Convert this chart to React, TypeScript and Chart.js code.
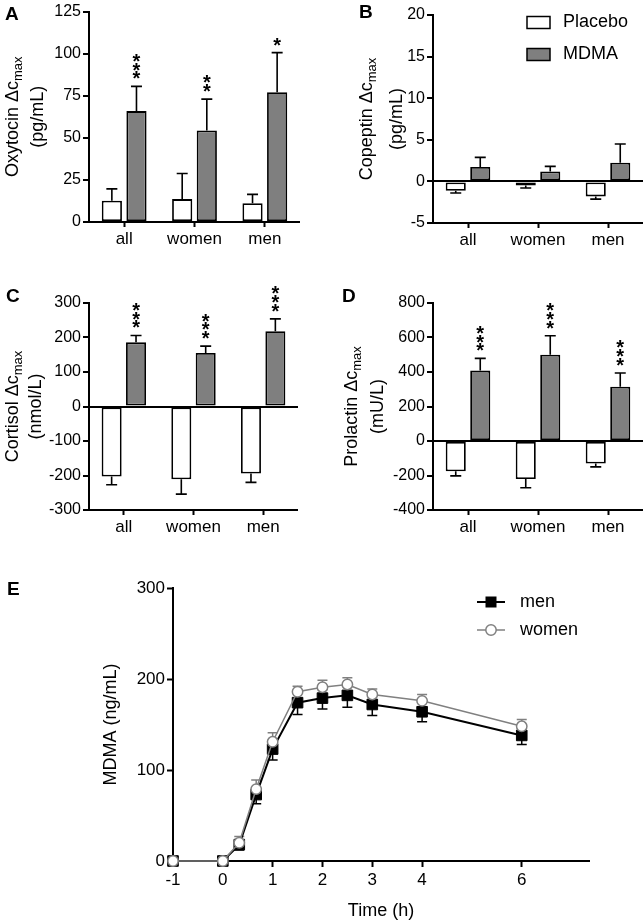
import React, { useEffect, useRef } from 'react';
import { Chart, registerables } from 'chart.js';

Chart.register(...registerables);

const FONT = "'Liberation Sans', Arial, Helvetica, sans-serif";

// ---------------- data ----------------
const groups = ['all', 'women', 'men'];

const oxytocinTicks = [0, 25, 50, 75, 100, 125];
const oxytocinPlacebo = [12.6, 13.6, 11.2];
const oxytocinPlaceboSem = [7.1, 15.2, 5.2];
const oxytocinMdma = [65.9, 54.4, 77.1];
const oxytocinMdmaSem = [14.7, 18.6, 23.5];
const oxytocinStars = ['***', '**', '*'];

const copeptinTicks = [-5, 0, 5, 10, 15, 20];
const copeptinPlacebo = [-1.12, -0.48, -1.8];
const copeptinPlaceboSem = [0.28, 0.32, 0.33];
const copeptinMdma = [1.73, 1.2, 2.25];
const copeptinMdmaSem = [1.16, 0.6, 2.24];
const copeptinStars = ['', '', ''];

const cortisolTicks = [-300, -200, -100, 0, 100, 200, 300];
const cortisolPlacebo = [-203, -211, -194];
const cortisolPlaceboSem = [24, 43, 26];
const cortisolMdma = [186, 155, 218];
const cortisolMdmaSem = [20, 20, 36];
const cortisolStars = ['***', '***', '***'];

const prolactinTicks = [-400, -200, 0, 200, 400, 600, 800];
const prolactinPlacebo = [-175, -221, -131];
const prolactinPlaceboSem = [27, 50, 19];
const prolactinMdma = [408, 500, 315];
const prolactinMdmaSem = [71, 110, 79];
const prolactinStars = ['***', '***', '***'];

const timeHours = [-1, 0, 0.33, 0.67, 1, 1.5, 2, 2.5, 3, 4, 6];
const menMdma = [0, 0, 18, 73, 123, 174, 179, 182, 172, 164, 138];
const menMdmaSem = [0, 0, 6, 10, 12, 13, 12, 13, 12, 11, 10];
const womenMdma = [0, 0, 20, 79, 131, 186, 191, 194, 183, 176, 148];
const womenMdmaSem = [0, 0, 7, 10, 10, 6, 7.5, 7.5, 6, 7, 7.6];
const timeTicks = [-1, 0, 1, 2, 3, 4, 6];
const timeMin = -1;
const timeMax = 7.35;
const mdmaTicks = [0, 100, 200, 300];

// ---------------- layout ----------------
type Box = { left: number; top: number; width: number; height: number };
type Area = { left: number; top: number; right: number; bottom: number };

type BarPanel = {
  letter: string;
  box: Box;
  area: Area;
  ticks: number[];
  placebo: number[];
  placeboSem: number[];
  mdma: number[];
  mdmaSem: number[];
  stars: string[];
  titleMain: string;
  titleSub: string;
  titleUnit: string;
  titleOffsets: [number, number];
  letterPos: [number, number];
  legend?: boolean;
};

const panels: BarPanel[] = [
  {
    letter: 'A',
    box: { left: 0, top: 0, width: 300, height: 270 },
    area: { left: 89, top: 11, right: 300, bottom: 222 },
    ticks: oxytocinTicks,
    placebo: oxytocinPlacebo,
    placeboSem: oxytocinPlaceboSem,
    mdma: oxytocinMdma,
    mdmaSem: oxytocinMdmaSem,
    stars: oxytocinStars,
    titleMain: 'Oxytocin \u0394c',
    titleSub: 'max',
    titleUnit: '(pg/mL)',
    titleOffsets: [-71, -46],
    letterPos: [5, 20],
  },
  {
    letter: 'B',
    box: { left: 330, top: 0, width: 313, height: 270 },
    area: { left: 433, top: 15, right: 643, bottom: 223 },
    ticks: copeptinTicks,
    placebo: copeptinPlacebo,
    placeboSem: copeptinPlaceboSem,
    mdma: copeptinMdma,
    mdmaSem: copeptinMdmaSem,
    stars: copeptinStars,
    titleMain: 'Copeptin \u0394c',
    titleSub: 'max',
    titleUnit: '(pg/mL)',
    titleOffsets: [-61, -31],
    letterPos: [359, 18],
    legend: true,
  },
  {
    letter: 'C',
    box: { left: 0, top: 280, width: 298, height: 270 },
    area: { left: 89, top: 303, right: 298, bottom: 510 },
    ticks: cortisolTicks,
    placebo: cortisolPlacebo,
    placeboSem: cortisolPlaceboSem,
    mdma: cortisolMdma,
    mdmaSem: cortisolMdmaSem,
    stars: cortisolStars,
    titleMain: 'Cortisol \u0394c',
    titleSub: 'max',
    titleUnit: '(nmol/L)',
    titleOffsets: [-71, -48],
    letterPos: [6, 302],
  },
  {
    letter: 'D',
    box: { left: 330, top: 280, width: 313, height: 270 },
    area: { left: 433, top: 303, right: 643, bottom: 510 },
    ticks: prolactinTicks,
    placebo: prolactinPlacebo,
    placeboSem: prolactinPlaceboSem,
    mdma: prolactinMdma,
    mdmaSem: prolactinMdmaSem,
    stars: prolactinStars,
    titleMain: 'Prolactin \u0394c',
    titleSub: 'max',
    titleUnit: '(mU/L)',
    titleOffsets: [-76, -50],
    letterPos: [342, 302],
  },
];

const lineBox: Box = { left: 0, top: 560, width: 643, height: 362 };
const lineArea: Area = { left: 173, top: 588, right: 589, bottom: 861 };

function layoutFor(box: Box, area: Area) {
  return {
    padding: {
      left: 0,
      top: area.top - box.top,
      right: box.left + box.width - area.right,
      bottom: 0,
    },
    yWidth: area.left - box.left,
    xHeight: box.top + box.height - area.bottom,
  };
}

function drawYTitle(ctx: CanvasRenderingContext2D, baseX: number, cy: number, main: string, sub: string, size: number) {
  ctx.save();
  ctx.translate(baseX, cy);
  ctx.rotate(-Math.PI / 2);
  ctx.fillStyle = '#000';
  ctx.textAlign = 'left';
  ctx.textBaseline = 'alphabetic';
  ctx.font = `${size}px ${FONT}`;
  const wMain = ctx.measureText(main).width;
  const subSize = Math.round(size * 0.72);
  ctx.font = `${subSize}px ${FONT}`;
  const wSub = sub ? ctx.measureText(sub).width : 0;
  const total = wMain + wSub;
  ctx.font = `${size}px ${FONT}`;
  ctx.fillText(main, -total / 2, 0);
  if (sub) {
    ctx.font = `${subSize}px ${FONT}`;
    ctx.fillText(sub, -total / 2 + wMain, 4);
  }
  ctx.restore();
}

function barConfig(p: BarPanel): any {
  const L = layoutFor(p.box, p.area);
  const ox = p.box.left;
  const oy = p.box.top;
  const deco = {
    id: 'deco' + p.letter,
    afterDatasetsDraw(chart: any) {
      const ctx: CanvasRenderingContext2D = chart.ctx;
      const ys = chart.scales.y;
      const ca = chart.chartArea;
      const sets: [number[], number[]][] = [
        [p.placebo, p.placeboSem],
        [p.mdma, p.mdmaSem],
      ];
      ctx.save();
      ctx.strokeStyle = '#000';
      ctx.lineWidth = 1.6;
      sets.forEach(([vals, sems], d) => {
        const meta = chart.getDatasetMeta(d);
        vals.forEach((v, i) => {
          const el = meta.data[i];
          const end = v >= 0 ? v + sems[i] : v - sems[i];
          const y0 = ys.getPixelForValue(v);
          const y1 = ys.getPixelForValue(end);
          ctx.beginPath();
          ctx.moveTo(el.x, y0);
          ctx.lineTo(el.x, y1);
          ctx.moveTo(el.x - 5.5, y1);
          ctx.lineTo(el.x + 5.5, y1);
          ctx.stroke();
        });
      });
      // significance stars
      ctx.fillStyle = '#000';
      ctx.font = `bold 20px ${FONT}`;
      ctx.textAlign = 'center';
      ctx.textBaseline = 'alphabetic';
      const m = ctx.measureText('*');
      const shift = (m.actualBoundingBoxAscent - m.actualBoundingBoxDescent) / 2;
      const metaM = chart.getDatasetMeta(1);
      p.stars.forEach((s, i) => {
        const yTop = ys.getPixelForValue(p.mdma[i] + p.mdmaSem[i]);
        for (let k = 0; k < s.length; k++) {
          const cy = yTop - 11 - k * 8.8;
          ctx.fillText('*', metaM.data[i].x, cy + shift);
        }
      });
      // axis title
      const cy = (ca.top + ca.bottom) / 2;
      drawYTitle(ctx, ca.left + p.titleOffsets[0], cy, p.titleMain, p.titleSub, 18);
      drawYTitle(ctx, ca.left + p.titleOffsets[1], cy, p.titleUnit, '', 18);
      // panel letter
      ctx.fillStyle = '#000';
      ctx.textAlign = 'left';
      ctx.textBaseline = 'alphabetic';
      ctx.font = `bold 19px ${FONT}`;
      ctx.fillText(p.letter, p.letterPos[0] - ox, p.letterPos[1] - oy);
      // legend
      if (p.legend) {
        const items = [
          { label: 'Placebo', fill: '#ffffff', y: 22.5 },
          { label: 'MDMA', fill: '#7f7f7f', y: 54.5 },
        ];
        items.forEach((it) => {
          ctx.fillStyle = it.fill;
          ctx.strokeStyle = '#000';
          ctx.lineWidth = 1.5;
          ctx.beginPath();
          ctx.rect(527 - ox, it.y - 6 - oy, 23, 12);
          ctx.fill();
          ctx.stroke();
          ctx.fillStyle = '#000';
          ctx.font = `18px ${FONT}`;
          ctx.textBaseline = 'middle';
          ctx.fillText(it.label, 563 - ox, it.y - oy);
        });
      }
      ctx.restore();
    },
  };

  return {
    type: 'bar',
    data: {
      labels: groups,
      datasets: [
        {
          label: 'Placebo',
          data: p.placebo,
          backgroundColor: '#ffffff',
          borderColor: '#000000',
          borderWidth: 1.8,
          borderSkipped: false,
          categoryPercentage: 0.7,
          barPercentage: 0.82,
        },
        {
          label: 'MDMA',
          data: p.mdma,
          backgroundColor: '#7f7f7f',
          borderColor: '#000000',
          borderWidth: 1.8,
          borderSkipped: false,
          categoryPercentage: 0.7,
          barPercentage: 0.82,
        },
      ],
    },
    options: {
      responsive: false,
      maintainAspectRatio: false,
      animation: false,
      devicePixelRatio: 1,
      events: [],
      layout: { padding: L.padding },
      plugins: { legend: { display: false }, tooltip: { enabled: false }, title: { display: false } },
      scales: {
        x: {
          type: 'category',
          offset: true,
          grid: {
            offset: false,
            drawOnChartArea: false,
            drawTicks: true,
            tickLength: 5,
            tickColor: '#000',
            tickWidth: 2,
          },
          border: { display: true, color: '#000', width: 2 },
          ticks: {
            color: '#000',
            font: { size: 17, family: FONT },
            padding: 2,
            maxRotation: 0,
            autoSkip: false,
          },
          afterFit: (s: any) => {
            s.height = L.xHeight;
          },
        },
        y: {
          type: 'linear',
          min: p.ticks[0],
          max: p.ticks[p.ticks.length - 1],
          afterBuildTicks: (s: any) => {
            s.ticks = p.ticks.map((v) => ({ value: v }));
          },
          grid: {
            color: (c: any) => (c.tick && c.tick.value === 0 ? '#000' : 'rgba(0,0,0,0)'),
            lineWidth: 2,
            drawTicks: true,
            tickLength: 6,
            tickColor: '#000',
            tickWidth: 2,
          },
          border: { display: true, color: '#000', width: 2 },
          ticks: { color: '#000', font: { size: 16, family: FONT }, padding: 2 },
          afterFit: (s: any) => {
            s.width = L.yWidth;
          },
        },
      },
    },
    plugins: [deco],
  };
}

function lineConfig(): any {
  const L = layoutFor(lineBox, lineArea);
  const ox = lineBox.left;
  const oy = lineBox.top;
  const seriesErr = [
    { vals: menMdma, sems: menMdmaSem, dir: -1, color: '#000000', width: 1.5 },
    { vals: womenMdma, sems: womenMdmaSem, dir: 1, color: '#808080', width: 1.5 },
  ];
  const deco = {
    id: 'decoE',
    beforeDatasetsDraw(chart: any) {
      const ctx: CanvasRenderingContext2D = chart.ctx;
      const xs = chart.scales.x;
      const ys = chart.scales.y;
      ctx.save();
      seriesErr.forEach((s) => {
        ctx.strokeStyle = s.color;
        ctx.lineWidth = s.width;
        s.vals.forEach((v, i) => {
          if (!s.sems[i]) return;
          const x = xs.getPixelForValue(timeHours[i]);
          const y0 = ys.getPixelForValue(v);
          const y1 = ys.getPixelForValue(v + s.dir * s.sems[i]);
          ctx.beginPath();
          ctx.moveTo(x, y0);
          ctx.lineTo(x, y1);
          ctx.moveTo(x - 5, y1);
          ctx.lineTo(x + 5, y1);
          ctx.stroke();
        });
      });
      ctx.restore();
    },
    afterDatasetsDraw(chart: any) {
      const ctx: CanvasRenderingContext2D = chart.ctx;
      const ca = chart.chartArea;
      ctx.save();
      // y title
      drawYTitle(ctx, ca.left - 57, (ca.top + ca.bottom) / 2, 'MDMA (ng/mL)', '', 18);
      // x title
      ctx.fillStyle = '#000';
      ctx.font = `18px ${FONT}`;
      ctx.textAlign = 'center';
      ctx.textBaseline = 'middle';
      ctx.fillText('Time (h)', (ca.left + ca.right) / 2, 911 - oy);
      // letter
      ctx.textAlign = 'left';
      ctx.textBaseline = 'alphabetic';
      ctx.font = `bold 19px ${FONT}`;
      ctx.fillText('E', 7 - ox, 595 - oy);
      // legend
      const lx0 = 477 - ox;
      const lx1 = 505 - ox;
      const mx = 491 - ox;
      const yMen = 602 - oy;
      const yWomen = 630 - oy;
      ctx.strokeStyle = '#000';
      ctx.lineWidth = 2;
      ctx.beginPath();
      ctx.moveTo(lx0, yMen);
      ctx.lineTo(lx1, yMen);
      ctx.stroke();
      ctx.fillStyle = '#000';
      ctx.fillRect(mx - 5.5, yMen - 5.5, 11, 11);
      ctx.strokeStyle = '#808080';
      ctx.lineWidth = 1.5;
      ctx.beginPath();
      ctx.moveTo(lx0, yWomen);
      ctx.lineTo(lx1, yWomen);
      ctx.stroke();
      ctx.beginPath();
      ctx.arc(mx, yWomen, 5.2, 0, Math.PI * 2);
      ctx.fillStyle = '#fff';
      ctx.fill();
      ctx.stroke();
      ctx.fillStyle = '#000';
      ctx.font = `18px ${FONT}`;
      ctx.textBaseline = 'middle';
      ctx.fillText('men', 520 - ox, yMen);
      ctx.fillText('women', 520 - ox, yWomen);
      ctx.restore();
    },
  };

  return {
    type: 'line',
    data: {
      datasets: [
        {
          label: 'men',
          data: timeHours.map((t, i) => ({ x: t, y: menMdma[i] })),
          borderColor: '#000000',
          borderWidth: 2,
          pointStyle: 'rect',
          pointRadius: 7.5,
          pointBackgroundColor: '#000000',
          pointBorderColor: '#000000',
          pointBorderWidth: 1,
          tension: 0,
          clip: false,
          order: 1,
        },
        {
          label: 'women',
          data: timeHours.map((t, i) => ({ x: t, y: womenMdma[i] })),
          borderColor: '#808080',
          borderWidth: 1.5,
          pointStyle: 'circle',
          pointRadius: 5.2,
          pointBackgroundColor: '#ffffff',
          pointBorderColor: '#808080',
          pointBorderWidth: 1.5,
          tension: 0,
          clip: false,
          order: 0,
        },
      ],
    },
    options: {
      responsive: false,
      maintainAspectRatio: false,
      animation: false,
      devicePixelRatio: 1,
      events: [],
      layout: { padding: L.padding },
      plugins: { legend: { display: false }, tooltip: { enabled: false }, title: { display: false } },
      scales: {
        x: {
          type: 'linear',
          min: timeMin,
          max: timeMax,
          afterBuildTicks: (s: any) => {
            s.ticks = timeTicks.map((v) => ({ value: v }));
          },
          grid: {
            drawOnChartArea: false,
            drawTicks: true,
            tickLength: 6,
            tickColor: '#000',
            tickWidth: 2,
          },
          border: { display: true, color: '#000', width: 2 },
          ticks: { color: '#000', font: { size: 17, family: FONT }, padding: 3, maxRotation: 0, autoSkip: false },
          afterFit: (s: any) => {
            s.height = L.xHeight;
          },
        },
        y: {
          type: 'linear',
          min: mdmaTicks[0],
          max: mdmaTicks[mdmaTicks.length - 1],
          afterBuildTicks: (s: any) => {
            s.ticks = mdmaTicks.map((v) => ({ value: v }));
          },
          grid: {
            drawOnChartArea: false,
            drawTicks: true,
            tickLength: 6,
            tickColor: '#000',
            tickWidth: 2,
          },
          border: { display: true, color: '#000', width: 2 },
          ticks: { color: '#000', font: { size: 17, family: FONT }, padding: 2 },
          afterFit: (s: any) => {
            s.width = L.yWidth;
          },
        },
      },
    },
    plugins: [deco],
  };
}

function ChartCanvas({ box, make }: { box: Box; make: () => any }) {
  const ref = useRef<HTMLCanvasElement>(null);
  useEffect(() => {
    const chart = new Chart(ref.current as HTMLCanvasElement, make());
    return () => chart.destroy();
  }, []);
  return (
    <canvas
      ref={ref}
      width={box.width}
      height={box.height}
      style={{ position: 'absolute', left: box.left, top: box.top, width: box.width, height: box.height }}
    />
  );
}

export default function App() {
  return (
    <div style={{ position: 'absolute', left: 0, top: 0, width: 643, height: 922, background: '#fff', overflow: 'hidden' }}>
      {panels.map((p) => (
        <ChartCanvas key={p.letter} box={p.box} make={() => barConfig(p)} />
      ))}
      <ChartCanvas box={lineBox} make={lineConfig} />
    </div>
  );
}
